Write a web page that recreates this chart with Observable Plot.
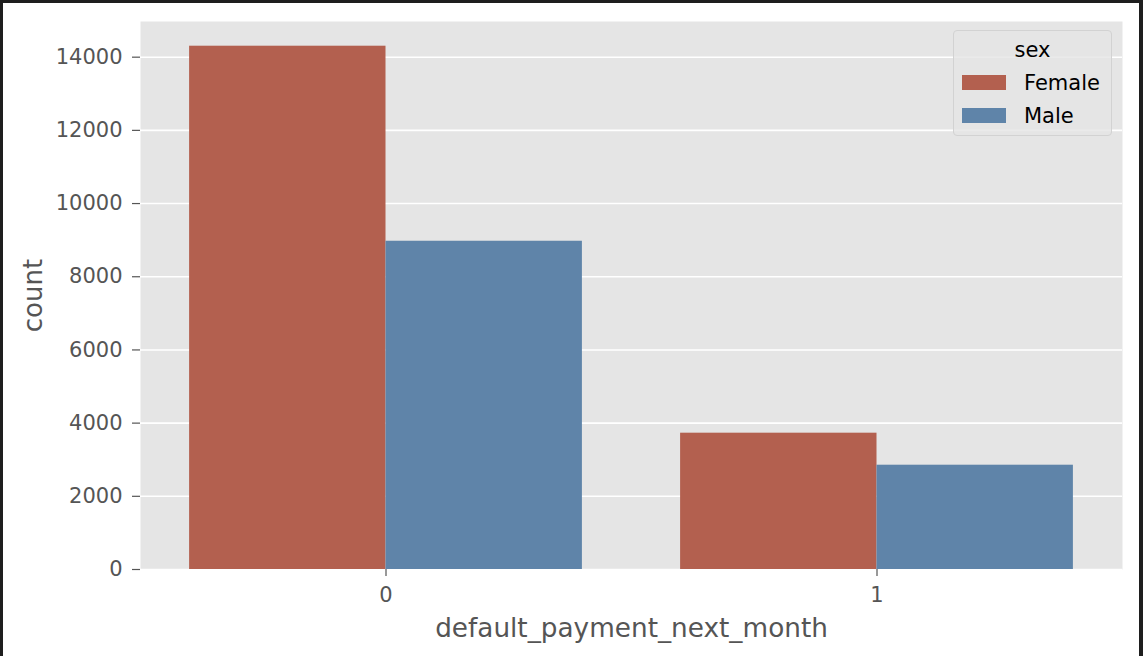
<!DOCTYPE html>
<html>
<head>
<meta charset="utf-8">
<script src="https://cdn.jsdelivr.net/npm/d3@7"></script>
<script src="https://cdn.jsdelivr.net/npm/@observablehq/plot@0.6"></script>
<style>
  body { margin: 0; background: #fff; }
  #wrap { position: relative; width: 1143px; height: 656px; overflow: hidden; font-family: "DejaVu Sans", sans-serif; background: #fff; }
  #wrap svg { position: absolute; left: 0; top: 0; }
  #frameTop { position: absolute; left: 0; top: 0; width: 1143px; height: 3px; background: #1e1e1e; }
  #frameLeft { position: absolute; left: 0; top: 0; width: 3px; height: 656px; background: #1e1e1e; }
  #frameRight { position: absolute; left: 1139px; top: 0; width: 4px; height: 656px; background: #1e1e1e; }
  #legend { position: absolute; left: 953px; top: 30px; width: 159px; height: 106px; box-sizing: border-box;
            border: 1px solid #d2d2d2; border-radius: 4px; background: rgba(229,229,229,0.8);
            font-size: 21px; line-height: 21px; color: #000; }
  #legend .t { position: absolute; white-space: nowrap; }
  #legend .sw { position: absolute; width: 44px; height: 15px; }
</style>
</head>
<body>
<div id="wrap"></div>
<script>
// ---- data ----
const categories = ["0", "1"];                 // default_payment_next_month
const sexes = ["Female", "Male"];               // hue
const femaleCounts = [14300, 3725];
const maleCounts = [8970, 2850];
const yTicks = [0, 2000, 4000, 6000, 8000, 10000, 12000, 14000];
const sexColors = ["#b3604f", "#5f84a9"];
const xLabel = "default_payment_next_month";
const yLabel = "count";
const legendTitle = "sex";

// table for the library (dodged bars, like seaborn: width 0.8 split across hues)
const seriesByHue = [femaleCounts, maleCounts];
const rows = [];
categories.forEach((c, i) => {
  sexes.forEach((s, k) => {
    const w = 0.8 / sexes.length;
    rows.push({cat: i, sex: s, value: seriesByHue[k][i], x1: i - 0.4 + k * w, x2: i - 0.4 + (k + 1) * w});
  });
});
const yMax = 14975;

const chart = Plot.plot({
  width: 1143,
  height: 656,
  marginLeft: 140,
  marginRight: 21,
  marginTop: 21,
  marginBottom: 87,
  style: {fontFamily: "DejaVu Sans, sans-serif", fontSize: "21px", color: "#555555", background: "transparent", overflow: "visible"},
  x: {type: "linear", domain: [-0.5, categories.length - 0.5], label: null},
  y: {domain: [0, yMax], label: null},
  color: {domain: sexes, range: sexColors},
  marks: [
    Plot.frame({fill: "#e5e5e5", stroke: null}),
    Plot.gridY(yTicks, {stroke: "#ffffff", strokeOpacity: 1, strokeWidth: 1.6}),
    Plot.rectY(rows, {x1: "x1", x2: "x2", y1: 0, y2: "value", fill: "sex"}),
    Plot.axisY(yTicks, {tickSize: 8, tickPadding: 10, fontSize: 21, label: null, strokeWidth: 1.2, tickFormat: d => String(d)}),
    Plot.axisX(categories.map((c, i) => i), {tickSize: 7, tickPadding: 11, fontSize: 21, label: null, tickFormat: i => categories[i], strokeWidth: 1.2}),
    Plot.text([yLabel], {frameAnchor: "left", dx: -107, rotate: -90, textAnchor: "middle", lineAnchor: "middle", fontSize: 26, fill: "#555555"}),
    Plot.text([xLabel], {frameAnchor: "bottom", dy: 59, textAnchor: "middle", lineAnchor: "middle", fontSize: 26.3, fill: "#555555"})
  ]
});

const wrap = document.getElementById("wrap");
wrap.appendChild(chart);

// legend (inside the axes, upper right)
const lg = document.createElement("div");
lg.id = "legend";
const title = document.createElement("div");
title.className = "t";
title.style.left = "0"; title.style.width = "100%"; title.style.textAlign = "center"; title.style.top = "9px";
title.textContent = legendTitle;
lg.appendChild(title);
sexes.forEach((s, k) => {
  const sw = document.createElement("div");
  sw.className = "sw";
  sw.style.left = "8px"; sw.style.top = (44 + 33 * k) + "px";
  sw.style.background = sexColors[k];
  lg.appendChild(sw);
  const t = document.createElement("div");
  t.className = "t";
  t.style.left = "70px"; t.style.top = (42 + 33 * k) + "px";
  t.textContent = s;
  lg.appendChild(t);
});
wrap.appendChild(lg);

["frameTop", "frameLeft", "frameRight"].forEach(id => {
  const d = document.createElement("div"); d.id = id; wrap.appendChild(d);
});
</script>
</body>
</html>
